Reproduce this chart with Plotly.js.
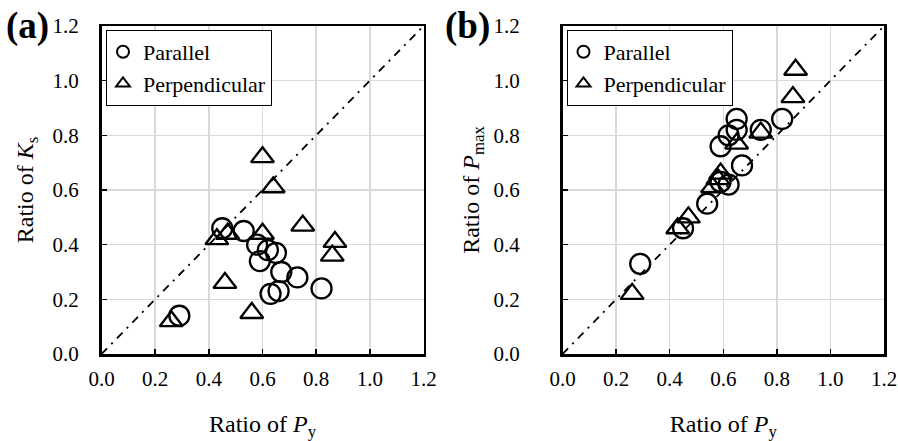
<!DOCTYPE html>
<html>
<head>
<meta charset="utf-8">
<script src="https://cdn.plot.ly/plotly-3.0.1.min.js"></script>
<style>html,body{margin:0;padding:0;background:#fff;}#chart{width:898px;height:441px;}</style>
</head>
<body>
<div id="chart"></div>
<script>
// Panel (a): Ratio of Ks vs Ratio of Py
var aParX = [0.29, 0.45, 0.53, 0.58, 0.62, 0.65, 0.59, 0.67, 0.73, 0.66, 0.63, 0.82];
var aParY = [0.14, 0.46, 0.45, 0.40, 0.38, 0.37, 0.34, 0.30, 0.28, 0.23, 0.22, 0.24];
var aPerX = [0.26, 0.60, 0.64, 0.75, 0.87, 0.86, 0.43, 0.47, 0.60, 0.46, 0.56];
var aPerY = [0.12, 0.72, 0.61, 0.47, 0.41, 0.36, 0.42, 0.44, 0.44, 0.26, 0.15];
// Panel (b): Ratio of Pmax vs Ratio of Py
var bParX = [0.29, 0.45, 0.54, 0.59, 0.62, 0.67, 0.59, 0.62, 0.65, 0.65, 0.74, 0.82];
var bParY = [0.33, 0.46, 0.55, 0.63, 0.62, 0.69, 0.76, 0.80, 0.82, 0.86, 0.82, 0.86];
var bPerX = [0.26, 0.43, 0.47, 0.56, 0.59, 0.58, 0.65, 0.74, 0.86, 0.87];
var bPerY = [0.22, 0.46, 0.50, 0.61, 0.66, 0.64, 0.77, 0.81, 0.94, 1.04];
// 1:1 reference line
var refLine = [0, 1.2];
var tickVals = [0, 0.2, 0.4, 0.6, 0.8, 1.0, 1.2];
var tickText = ['0.0', '0.2', '0.4', '0.6', '0.8', '1.0', '1.2'];
var seriesNames = ['Parallel', 'Perpendicular'];
var panelLabels = ['(a)', '(b)'];
var xTitle = 'Ratio of <i>P</i><sub>y</sub>';
var yTitles = ['Ratio of <i>K</i><sub>s</sub>', 'Ratio of <i>P</i><sub>max</sub>'];

var FONT = '"Liberation Serif", "Times New Roman", serif';
var circ = {symbol: 'circle-open', size: 20, color: '#000', line: {width: 2.3, color: '#000'}};
var tri = {symbol: 'triangle-up-open', size: 20, color: '#000', line: {width: 2.3, color: '#000'}};
var dashLine = {color: '#000', width: 1.8, dash: '8px,6px,2px,6px'};

var data = [
  {x: refLine, y: refLine, xaxis: 'x', yaxis: 'y', mode: 'lines', line: dashLine, showlegend: false, hoverinfo: 'skip'},
  {x: aParX, y: aParY, xaxis: 'x', yaxis: 'y', mode: 'markers', marker: circ, name: seriesNames[0], legend: 'legend'},
  {x: aPerX, y: aPerY, xaxis: 'x', yaxis: 'y', mode: 'markers', marker: tri, name: seriesNames[1], legend: 'legend'},
  {x: refLine, y: refLine, xaxis: 'x2', yaxis: 'y2', mode: 'lines', line: dashLine, showlegend: false, hoverinfo: 'skip'},
  {x: bParX, y: bParY, xaxis: 'x2', yaxis: 'y2', mode: 'markers', marker: circ, name: seriesNames[0], legend: 'legend2'},
  {x: bPerX, y: bPerY, xaxis: 'x2', yaxis: 'y2', mode: 'markers', marker: tri, name: seriesNames[1], legend: 'legend2'}
];

function xax(dom) {
  return {
    domain: dom, range: [0, 1.2], tickvals: tickVals, ticktext: tickText,
    showgrid: true, gridcolor: '#d9d9d9', gridwidth: 1.5, zeroline: false,
    showline: true, linecolor: '#000', linewidth: 2.5, mirror: true,
    ticks: 'inside', ticklen: 5, tickwidth: 1.5, tickcolor: '#000',
    ticklabelstandoff: 4,
    tickfont: {family: FONT, size: 21, color: '#000'},
    title: {text: xTitle, font: {family: FONT, size: 24, color: '#000'}, standoff: 27},
    fixedrange: true
  };
}
function yax(dom, anchor, title, standoff, tstand) {
  return {
    domain: dom, anchor: anchor, range: [0, 1.2], tickvals: tickVals, ticktext: tickText,
    showgrid: true, gridcolor: '#d9d9d9', gridwidth: 1.5, zeroline: false,
    showline: true, linecolor: '#000', linewidth: 2.5, mirror: true,
    ticks: 'inside', ticklen: 5, tickwidth: 1.5, tickcolor: '#000',
    ticklabelstandoff: standoff,
    tickfont: {family: FONT, size: 21, color: '#000'},
    title: {text: title, font: {family: FONT, size: 24, color: '#000'}, standoff: tstand},
    fixedrange: true
  };
}

var yDom = [87 / 441, 415 / 441];
var legendBase = {xanchor: 'left', yanchor: 'top', bgcolor: '#fff', bordercolor: '#000', borderwidth: 1,
  font: {family: FONT, size: 22, color: '#000'}, itemsizing: 'constant', tracegroupgap: 0, indentation: -4};
var layout = {
  width: 898, height: 441,
  margin: {l: 0, r: 0, t: 0, b: 0},
  paper_bgcolor: '#fff', plot_bgcolor: '#fff',
  font: {family: FONT, color: '#000'},
  xaxis: xax([101.5 / 898, 423.5 / 898]),
  yaxis: yax(yDom, 'x', yTitles[0], 16, 12),
  xaxis2: Object.assign(xax([562.5 / 898, 884 / 898]), {anchor: 'y2'}),
  yaxis2: yax(yDom, 'x2', yTitles[1], 36, 7),
  legend: Object.assign({x: 106 / 898, y: 1 - 30 / 441}, legendBase),
  legend2: Object.assign({x: 566.5 / 898, y: 1 - 30 / 441}, legendBase),
  annotations: [
    {text: '<b>' + panelLabels[0] + '</b>', xref: 'paper', yref: 'paper', x: 27 / 898, y: 1 - 26 / 441,
      xanchor: 'center', yanchor: 'middle', showarrow: false, borderpad: 0, font: {family: FONT, size: 37, color: '#000'}},
    {text: '<b>' + panelLabels[1] + '</b>', xref: 'paper', yref: 'paper', x: 467 / 898, y: 1 - 26 / 441,
      xanchor: 'center', yanchor: 'middle', showarrow: false, borderpad: 0, font: {family: FONT, size: 37, color: '#000'}}
  ],
  showlegend: true
};

Plotly.newPlot('chart', data, layout, {staticPlot: true, displayModeBar: false});
</script>
</body>
</html>
